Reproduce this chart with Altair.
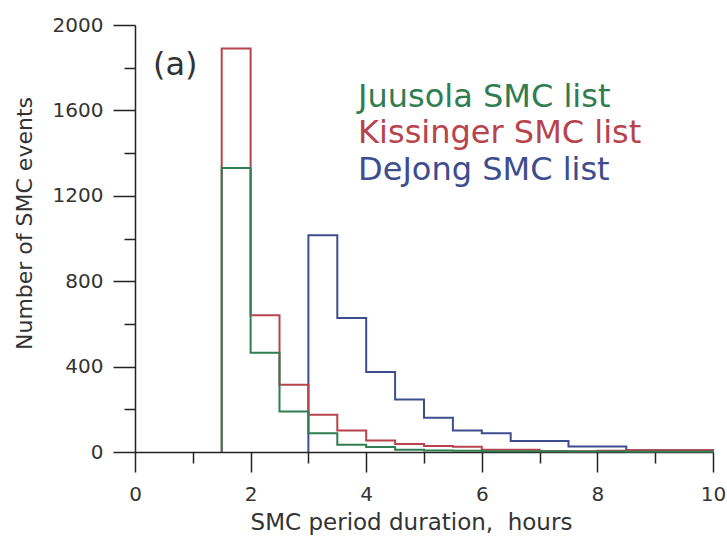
import altair as alt
import pandas as pd

# Bin settings (hours)
bin_width = 0.5

# Series: start of first bin and counts per 0.5-h bin
juusola_start = 1.5
juusola_counts = [1330, 465, 190, 88, 34, 23, 10, 7, 6, 4, 3, 3, 2, 2, 1, 1, 1]

kissinger_start = 1.5
kissinger_counts = [1890, 640, 315, 175, 101, 54, 38, 28, 25, 10, 10, 3, 3, 6, 8, 8, 8]

dejong_start = 3.0
dejong_counts = [1015, 628, 375, 246, 160, 101, 88, 51, 51, 26, 26, 8, 8, 8]

series_names = ["DeJong SMC list", "Kissinger SMC list", "Juusola SMC list"]
series_colors = ["#3d4d8e", "#b8434c", "#2f7d50"]

# Legend / panel label text
label_texts = ["Juusola SMC list", "Kissinger SMC list", "DeJong SMC list"]
label_x = [3.86, 3.86, 3.86]
label_y = [1616, 1445, 1272]
label_colors = ["#2f7d50", "#b8434c", "#3d4d8e"]
panel_label = "(a)"

rows = []
for name, start, counts in [
    ("DeJong SMC list", dejong_start, dejong_counts),
    ("Kissinger SMC list", kissinger_start, kissinger_counts),
    ("Juusola SMC list", juusola_start, juusola_counts),
]:
    k = 0
    rows.append({"series": name, "x": start, "y": 0, "k": k})
    for i, c in enumerate(counts):
        k += 1
        rows.append({"series": name, "x": start + i * bin_width, "y": c, "k": k})
    rows.append({"series": name, "x": start + len(counts) * bin_width, "y": 0, "k": k + 1})
df = pd.DataFrame(rows)

lab_df = pd.DataFrame({"text": label_texts, "x": label_x, "y": label_y, "c": label_colors})
pan_df = pd.DataFrame({"text": [panel_label], "x": [0.31], "y": [1766]})

FONT = "DejaVu Sans"

xscale = alt.Scale(domain=[0, 10], nice=False, zero=False)
yscale = alt.Scale(domain=[0, 2000], nice=False)

xaxis = alt.Axis(
    values=list(range(0, 11)),
    format="d",
    labelExpr="datum.value % 2 === 0 ? datum.label : ''",
    labelFlush=False,
    tickSize={"condition": {"test": "datum.value % 2 === 0", "value": 20}, "value": 11},
    grid=False,
    title="SMC period duration,\u00a0 hours",
    titleFont=FONT, titleFontSize=23, titleFontWeight="normal", titleColor="#333333",
    labelFont=FONT, labelFontSize=20, labelColor="#333333", labelPadding=12,
    domainColor="#222222", tickColor="#222222", domainWidth=1.5, tickWidth=1.5,
    titleX=276, titlePadding=7,
)
yaxis = alt.Axis(
    values=list(range(0, 2001, 200)),
    labelExpr="datum.value % 400 === 0 ? datum.label : ''",
    labelFlush=False,
    format="d",
    tickSize={"condition": {"test": "datum.value % 400 === 0", "value": 22}, "value": 11},
    grid=False,
    title="Number of SMC events",
    titleFont=FONT, titleFontSize=22, titleFontWeight="normal", titleColor="#333333",
    labelFont=FONT, labelFontSize=20, labelColor="#333333", labelPadding=10,
    domainColor="#222222", tickColor="#222222", domainWidth=1.5, tickWidth=1.5,
    titleY=198, titlePadding=16,
)

lines = alt.Chart(df).mark_line(interpolate="step-after", strokeWidth=2).encode(
    x=alt.X("x:Q", scale=xscale, axis=xaxis),
    y=alt.Y("y:Q", scale=yscale, axis=yaxis),
    color=alt.Color("series:N", scale=alt.Scale(domain=series_names, range=series_colors), legend=None),
    order="k:Q",
)

labels = alt.Chart(lab_df).mark_text(align="left", baseline="alphabetic", font=FONT, fontSize=32).encode(
    x=alt.X("x:Q", scale=xscale),
    y=alt.Y("y:Q", scale=yscale),
    text="text:N",
    color=alt.Color("c:N", scale=None),
)

panel = alt.Chart(pan_df).mark_text(align="left", baseline="alphabetic", font=FONT, fontSize=32, color="#333333").encode(
    x=alt.X("x:Q", scale=xscale),
    y=alt.Y("y:Q", scale=yscale),
    text="text:N",
)

chart = alt.layer(lines, labels, panel).properties(
    width=578, height=427,
    autosize=alt.AutoSizeParams(type="none"),
    padding={"left": 135, "top": 25, "right": 14, "bottom": 85},
    background="white",
).configure_view(stroke=None)

chart.save("out.html", embed_options={"renderer": "svg", "actions": False})
